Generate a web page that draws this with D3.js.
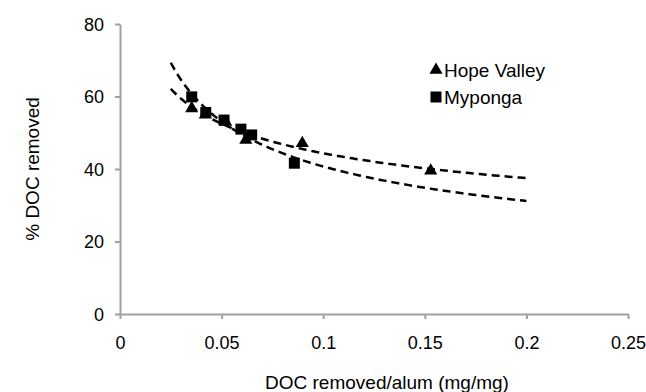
<!DOCTYPE html>
<html>
<head>
<meta charset="utf-8">
<script src="https://cdn.jsdelivr.net/npm/d3@7"></script>
<style>
  body { margin: 0; background: #fff; }
  text { font-family: "Liberation Sans", Arial, sans-serif; fill: #000; }
</style>
</head>
<body>
<div id="chart"></div>
<script>
// data
const hopeX = [0.0353, 0.042, 0.052, 0.0619, 0.0897, 0.1529];
const hopeY = [56.7, 55, 53, 48, 47.1, 39.5];
const mypongaX = [0.0353, 0.0422, 0.0512, 0.0595, 0.0648, 0.0858];
const mypongaY = [59.9, 55.6, 53.5, 51, 49.4, 41.6];
const xTicks = [0, 0.05, 0.1, 0.15, 0.2, 0.25];
const yTicks = [0, 20, 40, 60, 80];
const trendRange = [0.025, 0.2];

const W = 646, H = 392;
const svg = d3.select("#chart").append("svg")
    .attr("width", W).attr("height", H);

const x = d3.scaleLinear().domain([0, 0.25]).range([120, 628]);
const y = d3.scaleLinear().domain([0, 80]).range([314, 24]);

// axes
const xAxis = svg.append("g").attr("transform", `translate(0,${y(0)})`)
    .call(d3.axisBottom(x).tickValues(xTicks).tickSizeOuter(0).tickSizeInner(5)
        .tickFormat(d => d === 0 ? "0" : String(+d.toFixed(2))));
const yAxis = svg.append("g").attr("transform", `translate(${x(0)},0)`)
    .call(d3.axisLeft(y).tickValues(yTicks).tickSizeOuter(0).tickSizeInner(5));

[xAxis, yAxis].forEach(a => {
    a.select(".domain").attr("stroke", "#a0a0a0").attr("stroke-width", 2);
    a.selectAll(".tick line").attr("stroke", "#a0a0a0").attr("stroke-width", 2);
    a.selectAll(".tick text").style("font-size", "18px")
        .style("font-family", '"Liberation Sans", Arial, sans-serif').attr("fill", "#000");
});
xAxis.selectAll(".tick text").attr("dy", "0").attr("y", 35);
yAxis.selectAll(".tick text").attr("x", -16).attr("dy", "0.35em");

// axis titles
svg.append("text")
    .attr("x", 387).attr("y", 389)
    .attr("text-anchor", "middle")
    .style("font-size", "19px")
    .text("DOC removed/alum (mg/mg)");
svg.append("text")
    .attr("transform", "translate(39,169) rotate(-90)")
    .attr("text-anchor", "middle")
    .style("font-size", "19px")
    .text("% DOC removed");

// power trend lines (least squares on log-log, like the spreadsheet trendline)
function powerFit(xs, ys) {
    const lx = xs.map(Math.log), ly = ys.map(Math.log);
    const mx = d3.mean(lx), my = d3.mean(ly);
    const b = d3.sum(lx, (v, i) => (v - mx) * (ly[i] - my)) / d3.sum(lx, v => (v - mx) * (v - mx));
    const a = Math.exp(my - b * mx);
    return v => a * Math.pow(v, b);
}

const line = d3.line().x(d => x(d[0])).y(d => y(d[1]));
[[hopeX, hopeY], [mypongaX, mypongaY]].forEach(([xs, ys]) => {
    const f = powerFit(xs, ys);
    const pts = d3.range(0, 101).map(i => {
        const v = trendRange[0] + (trendRange[1] - trendRange[0]) * i / 100;
        return [v, f(v)];
    });
    svg.append("path")
        .attr("d", line(pts))
        .attr("fill", "none")
        .attr("stroke", "#000")
        .attr("stroke-width", 2.5)
        .attr("stroke-dasharray", "8,5");
});

// markers
const tri = d3.symbol().type(d3.symbolTriangle).size(75);
const sq = d3.symbol().type(d3.symbolSquare).size(121);

svg.selectAll(".hope")
    .data(hopeX.map((v, i) => [v, hopeY[i]]))
    .enter().append("path")
    .attr("class", "hope")
    .attr("d", tri)
    .attr("transform", d => `translate(${x(d[0])},${y(d[1])})`)
    .attr("fill", "#000");

svg.selectAll(".myponga")
    .data(mypongaX.map((v, i) => [v, mypongaY[i]]))
    .enter().append("path")
    .attr("class", "myponga")
    .attr("d", sq)
    .attr("transform", d => `translate(${x(d[0])},${y(d[1])})`)
    .attr("fill", "#000");

// legend
const legend = [
    { name: "Hope Valley", sym: tri, cy: 70 },
    { name: "Myponga", sym: sq, cy: 97 }
];
const lg = svg.append("g");
legend.forEach(d => {
    lg.append("path").attr("d", d.sym)
        .attr("transform", `translate(436,${d.cy})`).attr("fill", "#000");
    lg.append("text").attr("x", 444).attr("y", d.cy).attr("dy", "0.35em")
        .style("font-size", "19px").text(d.name);
});
</script>
</body>
</html>
